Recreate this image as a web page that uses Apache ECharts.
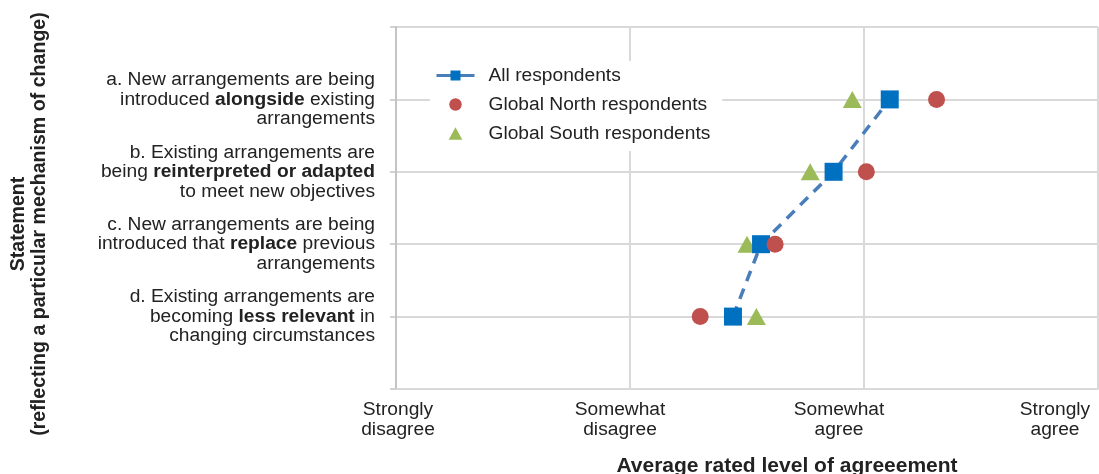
<!DOCTYPE html>
<html>
<head>
<meta charset="utf-8">
<script src="https://cdn.jsdelivr.net/npm/echarts@6/dist/echarts.min.js"></script>
<style>
  html, body { margin: 0; padding: 0; background: #fff; }
  #chart { width: 1099px; height: 474px; }
</style>
</head>
<body>
<div id="chart"></div>
<script>
// statements, bottom (d) to top (a) -- y position = index + 1
const statements = [
  'd. Existing arrangements are\nbecoming {b|less relevant} in\nchanging circumstances',
  'c. New arrangements are being\nintroduced that {b|replace} previous\narrangements',
  'b. Existing arrangements are\nbeing {b|reinterpreted or adapted}\nto meet new objectives',
  'a. New arrangements are being\nintroduced {b|alongside} existing\narrangements'
]
const statementPos = [1, 2, 3, 4]

// average rated agreement (1 = strongly disagree ... 4 = strongly agree), order d, c, b, a
const allResp = [2.44, 2.56, 2.87, 3.11]
const northResp = [2.30, 2.62, 3.01, 3.31]
const southResp = [2.54, 2.50, 2.77, 2.95]

const xTickLabels = ['Strongly\ndisagree', 'Somewhat\ndisagree', 'Somewhat\nagree', 'Strongly\nagree']

const FONT = '"Liberation Sans", Arial, Helvetica, sans-serif'
const gridColor = '#d9d9d9'
const FS = 19.2

function pairs(vals) {
  return vals.map((v, i) => [v, statementPos[i]])
}

const chart = echarts.init(document.getElementById('chart'), null, { renderer: 'canvas' })

const xRich = {}
const xShift = [[0, 0, 0, 4], [0, 20, 0, 0], [0, 50, 0, 0], [0, 86, 0, 0]]
xShift.forEach((p, i) => {
  xRich['s' + i] = { fontSize: FS, lineHeight: 20, fontFamily: FONT, color: '#222', padding: p }
})

const option = {
  backgroundColor: '#fff',
  animation: false,
  textStyle: { fontFamily: FONT },
  grid: {
    left: 396,
    right: 1,
    top: 27,
    bottom: 85,
    containLabel: false,
    outerBoundsMode: 'none'
  },
  xAxis: {
    type: 'value',
    min: 1,
    max: 4,
    interval: 1,
    axisLine: { show: true, lineStyle: { color: gridColor, width: 2 } },
    axisTick: { show: false },
    splitLine: { show: true, lineStyle: { color: gridColor, width: 2 } },
    axisLabel: {
      margin: 11,
      color: '#222',
      fontSize: FS,
      lineHeight: 20,
      fontFamily: FONT,
      formatter: function (v) {
        const i = Math.round(v) - 1
        return '{s' + i + '|' + xTickLabels[i] + '}'
      },
      rich: xRich
    }
  },
  yAxis: {
    type: 'value',
    min: 0,
    max: 5,
    interval: 1,
    axisLine: { show: true, lineStyle: { color: '#c4c4c4', width: 2 } },
    axisTick: { show: true, length: 6, lineStyle: { color: '#c4c4c4', width: 1.5 } },
    splitLine: { show: true, lineStyle: { color: gridColor, width: 2 } },
    axisLabel: {
      margin: 21,
      color: '#222',
      fontSize: FS,
      lineHeight: 19.5,
      fontFamily: FONT,
      align: 'right',
      formatter: function (v) {
        const i = statementPos.indexOf(Math.round(v))
        return i < 0 ? '' : statements[i]
      },
      rich: {
        b: { fontWeight: 'bold', fontSize: FS, lineHeight: 19.5, fontFamily: FONT, color: '#222' }
      }
    }
  },
  legend: {
    orient: 'vertical',
    left: 430,
    top: 61,
    padding: [5, 12, 8, 5],
    backgroundColor: '#fff',
    itemWidth: 38,
    itemHeight: 12.5,
    itemGap: 10,
    textStyle: { fontSize: FS, lineHeight: 19, color: '#222', fontFamily: FONT, padding: [0, 0, 0, 9] },
    data: [
      { name: 'All respondents', lineStyle: { type: 'solid', width: 3 } },
      { name: 'Global North respondents' },
      { name: 'Global South respondents', icon: 'path://M0,11L6,0L12,11Z' }
    ]
  },
  graphic: [
    {
      type: 'text',
      x: 29,
      y: 224,
      rotation: Math.PI / 2,
      style: {
        text: 'Statement\n(reflecting a particular mechanism of change)',
        font: 'bold 19.6px ' + FONT,
        lineHeight: 20.5,
        fill: '#222',
        align: 'center',
        verticalAlign: 'middle'
      }
    },
    {
      type: 'text',
      x: 787,
      y: 466,
      style: {
        text: 'Average rated level of agreeement',
        font: 'bold 21px ' + FONT,
        fill: '#222',
        align: 'center',
        verticalAlign: 'middle'
      }
    }
  ],
  series: [
    {
      name: 'Global South respondents',
      type: 'scatter',
      symbol: 'triangle',
      symbolSize: [19, 17],
      z: 2,
      itemStyle: { color: '#9bbb59', opacity: 1 },
      data: pairs(southResp)
    },
    {
      name: 'All respondents',
      type: 'line',
      symbol: 'rect',
      symbolSize: 18,
      showAllSymbol: true,
      z: 3,
      itemStyle: { color: '#0070c0', opacity: 1 },
      lineStyle: { color: '#4a7ebb', width: 3.5, type: [11, 8] },
      data: pairs(allResp)
    },
    {
      name: 'Global North respondents',
      type: 'scatter',
      symbol: 'circle',
      symbolSize: 17,
      z: 4,
      itemStyle: { color: '#c0504d', opacity: 1 },
      data: pairs(northResp)
    }
  ]
}

chart.setOption(option)
</script>
</body>
</html>
